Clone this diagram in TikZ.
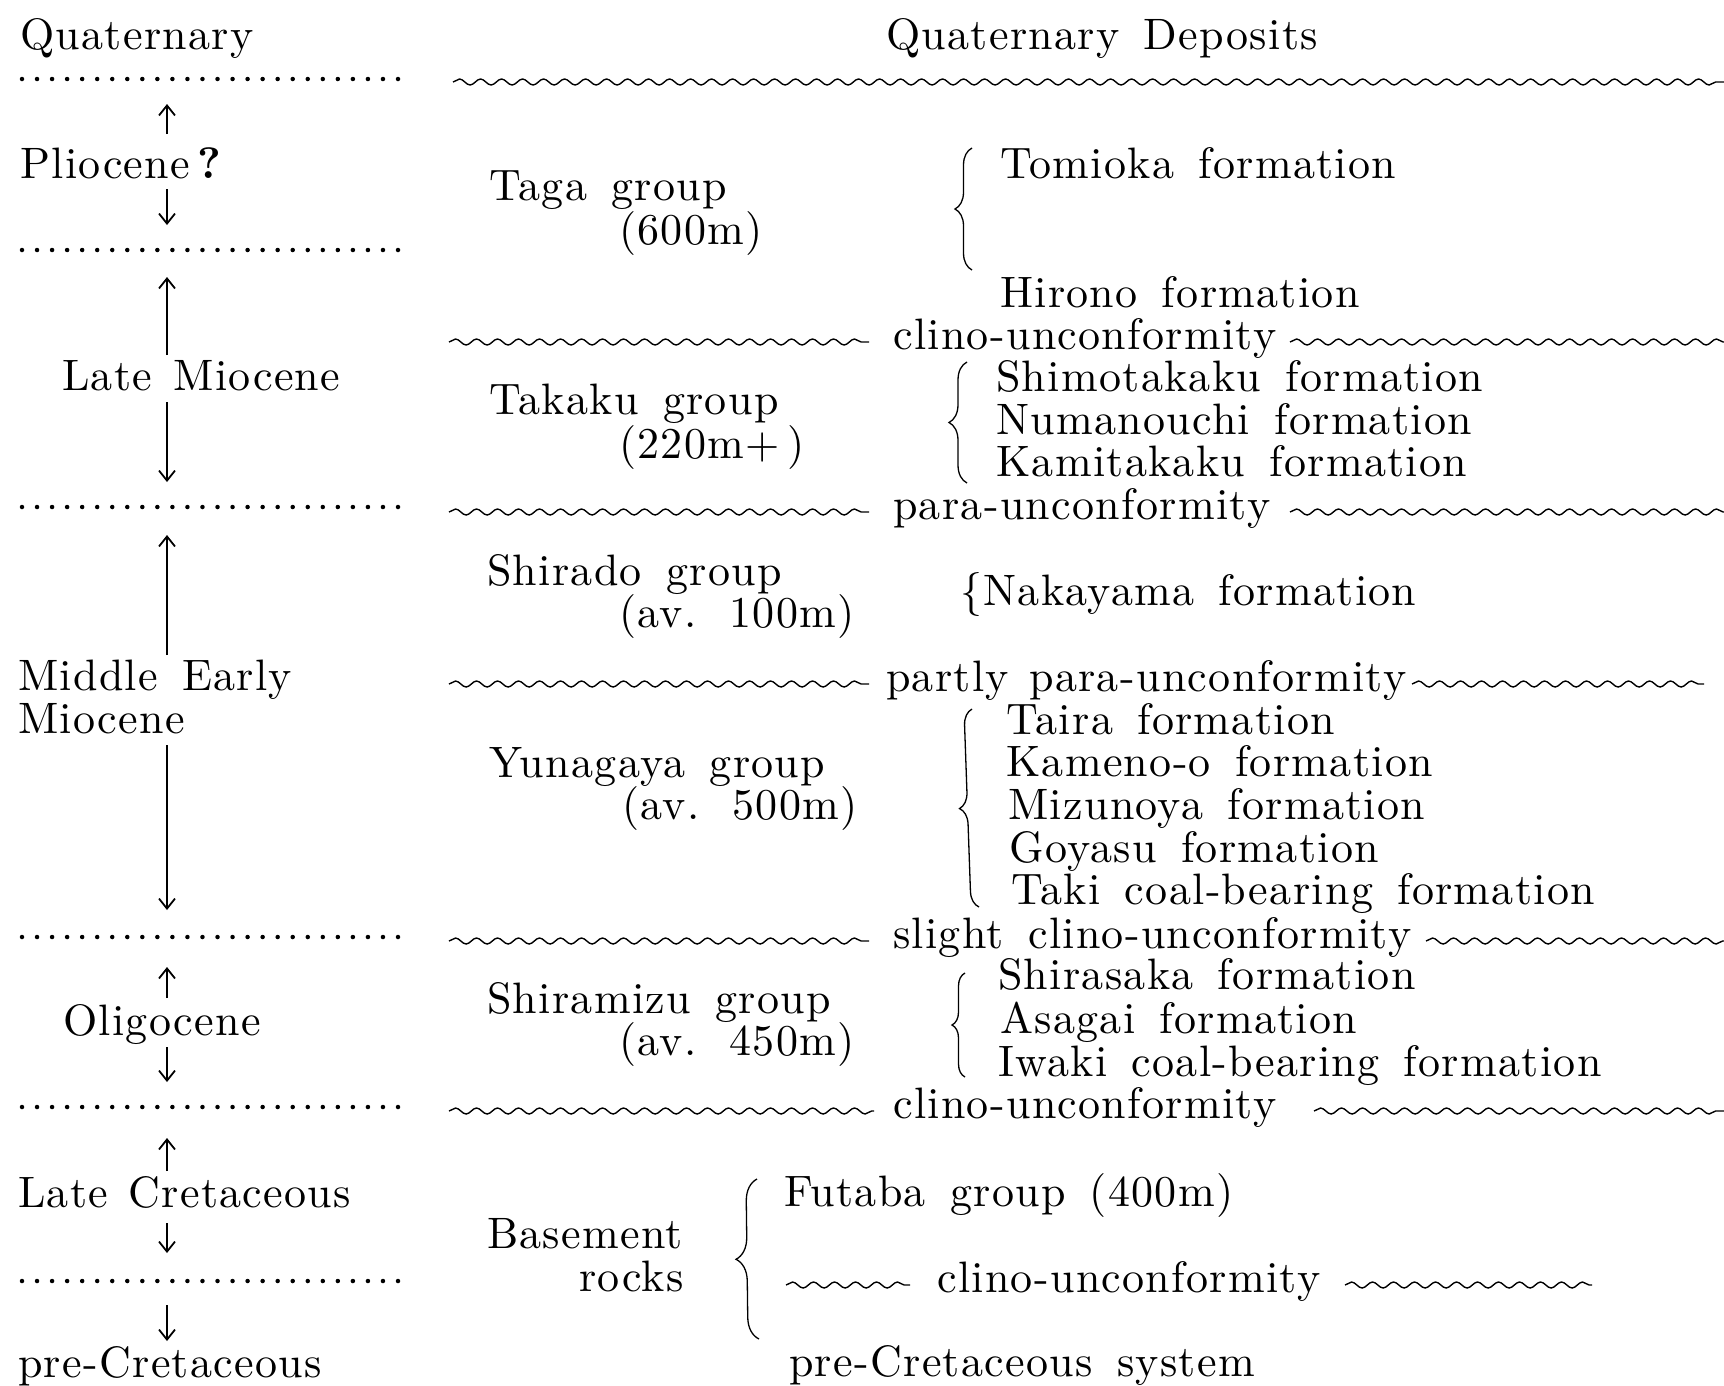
\documentclass[tikz,border=0pt]{standalone}
\usepackage{fontspec}
\setmainfont{lmroman10-regular.otf}[BoldFont=lmroman10-bold.otf,LetterSpace=3]
\usetikzlibrary{decorations.pathmorphing,decorations.pathreplacing,arrows.meta}
\newcommand\chartfont{\fontsize{44}{48}\selectfont\spaceskip=0.55em plus 0.1em\relax}
\begin{document}
\begin{tikzpicture}[x=1pt,y=-1pt,
  txt/.style={anchor=base west,inner sep=0pt,font=\chartfont},
  dots/.style={line width=4.5pt,line cap=round,dash pattern=on 0pt off 15.04pt},
  wave/.style={line width=1.4pt,decorate,
    decoration={snake,segment length=21pt,amplitude=3pt}},
  epoch/.style={line width=1.8pt,
    -{Straight Barb[length=10pt,width=16pt,line width=1.8pt]}},
  curly/.style={line width=1.3pt,decorate,decoration={brace,amplitude=#1}}
]
\useasboundingbox (0,0) rectangle (1724,1385);

% ---------------- left column: epochs ----------------
\foreach \y [count=\i] in {79,250,507,937,1107,1281}{
  \coordinate (dl\i) at (22,\y);
  \coordinate (dr\i) at (398,\y);
  \draw[dots] (dl\i) -- (dr\i);
}

\node[txt] (quat) at (20,49) {Quaternary};
\node[txt] (plio) at (20,178) {Pliocene\,\textbf{?}};
\node[txt] (lmio) at (62,390) {Late\hspace{-3pt} Miocene};
\node[txt] (memio) at (18,690) {Middle Early};
\node[txt] (memio2) at (18,733) {Miocene};
\node[txt] (olig) at (63,1035) {Oligocene};
\node[txt] (lcret) at (18,1207) {Late\hspace{-4pt} Cretaceous};
\node[txt] (pcret) at (18,1377) {pre-Cretaceous};

% range arrows
\coordinate (a1s) at (167,134);  \coordinate (a1e) at (167,104);
\coordinate (a2s) at (167,189);  \coordinate (a2e) at (167,225);
\coordinate (a3s) at (167,355);  \coordinate (a3e) at (167,277);
\coordinate (a4s) at (167,402);  \coordinate (a4e) at (167,482);
\coordinate (a5s) at (167,655);  \coordinate (a5e) at (167,535);
\coordinate (a6s) at (167,745);  \coordinate (a6e) at (167,910);
\coordinate (a7s) at (167,998);  \coordinate (a7e) at (167,967);
\coordinate (a8s) at (167,1047); \coordinate (a8e) at (167,1082);
\coordinate (a9s) at (167,1171); \coordinate (a9e) at (167,1138);
\coordinate (a10s) at (167,1223); \coordinate (a10e) at (167,1253);
\coordinate (a11s) at (167,1305); \coordinate (a11e) at (167,1341);
\foreach \i in {1,...,11}{ \draw[epoch] (a\i s) -- (a\i e); }

% ---------------- right columns: groups and formations ----------------
\node[txt] (qdep) at (886,49) {Quaternary Deposits};

\node[txt] (taga) at (489,200) {Taga group};
\node[txt] (taga2) at (619,244) {(600m)};
\node[txt] (tomioka) at (1000,178) {Tomioka formation};
\node[txt] (hirono) at (1000,307) {Hirono formation};
\node[txt] (cu1) at (893,349) {clino-unconformity};

\node[txt] (takaku) at (489,414) {Takaku group};
\node[txt] (takaku2) at (619,458) {(220m+\,)};
\node[txt] (shimo) at (996,391) {Shimotakaku formation};
\node[txt] (numa) at (996,434) {Numanouchi formation};
\node[txt] (kami) at (996,476) {Kamitakaku formation};
\node[txt] (pu) at (893,519) {para-unconformity};

\node[txt] (shirado) at (487,585) {Shirado group};
\node[txt] (shirado2) at (619,627) {(av.\hspace{0.75em}100m)};
\node[txt] (naka) at (960,605) {\{Nakayama formation};
\node[txt] (ppu) at (886,691) {partly\hspace{-4pt} para-unconformity};

\node[txt] (yuna) at (489,777) {Yunagaya group};
\node[txt] (yuna2) at (622,819) {(av.\hspace{0.75em}500m)};
\node[txt] (taira) at (1006,734) {Taira formation};
\node[txt] (kameno) at (1006,776) {Kameno-o formation};
\node[txt] (mizu) at (1008,819) {Mizunoya formation};
\node[txt] (goya) at (1009,862) {Goyasu formation};
\node[txt] (taki) at (1011,904) {Taki coal-bearing formation};
\node[txt] (scu) at (893,948) {slight clino-unconformity};

\node[txt] (shiramizu) at (487,1013) {Shiramizu group};
\node[txt] (shiramizu2) at (619,1055) {(av.\hspace{0.75em}450m)};
\node[txt] (shirasaka) at (998,989) {Shirasaka formation};
\node[txt] (asagai) at (1000,1033) {Asagai formation};
\node[txt] (iwaki) at (998,1076) {Iwaki coal-bearing formation};
\node[txt] (cu2) at (893,1118) {clino-unconformity};

\node[txt] (base) at (487,1248) {Basement};
\node[txt] (rocks) at (579,1291) {rocks};
\node[txt] (futaba) at (784,1206) {Futaba group (400m)};
\node[txt] (cu3) at (937,1292) {clino-unconformity};
\node[txt] (precs) at (789,1376) {pre-Cretaceous system};

% unconformity lines
\coordinate (w0a) at (453,82);   \coordinate (w0b) at (1724,82);
\coordinate (w1a) at (449,342);  \coordinate (w1b) at (869,342);
\coordinate (w1c) at (1290,342); \coordinate (w1d) at (1724,342);
\coordinate (w2a) at (449,512);  \coordinate (w2b) at (869,512);
\coordinate (w2c) at (1290,512); \coordinate (w2d) at (1724,512);
\coordinate (w3a) at (449,684);  \coordinate (w3b) at (869,684);
\coordinate (w3c) at (1412,684); \coordinate (w3d) at (1704,684);
\coordinate (w4a) at (449,941);  \coordinate (w4b) at (869,941);
\coordinate (w4c) at (1426,941); \coordinate (w4d) at (1724,941);
\coordinate (w5a) at (449,1111); \coordinate (w5b) at (874,1111);
\coordinate (w5c) at (1314,1111);\coordinate (w5d) at (1724,1111);
\coordinate (w6a) at (786,1285); \coordinate (w6b) at (910,1285);
\coordinate (w6c) at (1345,1285);\coordinate (w6d) at (1592,1285);
\draw[wave] (w0a) -- (w0b);
\foreach \i in {1,...,6}{
  \draw[wave] (w\i a) -- (w\i b);
  \draw[wave] (w\i c) -- (w\i d);
}

% braces grouping the formations
\coordinate (b1t) at (972,148);  \coordinate (b1b) at (972,270);
\coordinate (b2t) at (967,362);  \coordinate (b2b) at (967,483);
\coordinate (b3t) at (972,709);  \coordinate (b3b) at (979,907);
\coordinate (b4t) at (965,973);  \coordinate (b4b) at (965,1077);
\coordinate (b5t) at (757,1179); \coordinate (b5b) at (759,1339);
\draw[curly=17pt] (b1b) -- (b1t);
\draw[curly=18pt] (b2b) -- (b2t);
\draw[curly=16pt] (b3b) -- (b3t);
\draw[curly=13pt] (b4b) -- (b4t);
\draw[curly=22pt] (b5b) -- (b5t);
\end{tikzpicture}
\end{document}
